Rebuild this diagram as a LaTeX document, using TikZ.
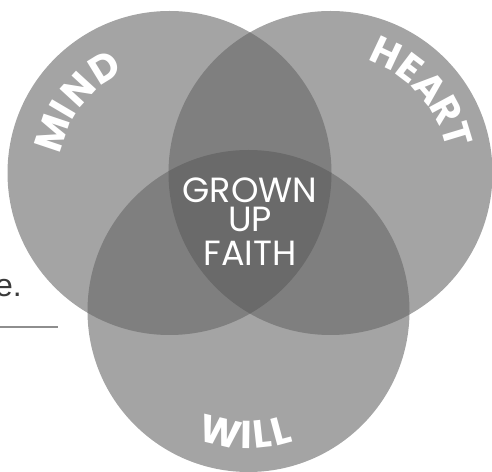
\documentclass[tikz,border=0pt]{standalone}
\usepackage{fontspec}
\usetikzlibrary{calc}
\newfontfamily\popfont{Poppins}
\newfontfamily\arialfont{Liberation Sans}
\definecolor{cone}{HTML}{A4A4A4}
\definecolor{ctwo}{HTML}{7F7F7F}
\definecolor{cthree}{HTML}{6A6A6A}
\definecolor{etext}{HTML}{3A3A3A}
\definecolor{rulegray}{HTML}{8E8E8E}
\tikzset{
  letterbox/.style={text=white, font=\popfont\bfseries\fontsize{39}{39}\selectfont, inner sep=0pt, anchor=center},
  centertext/.style={text=white, font=\popfont\fontsize{35}{35}\selectfont, inner sep=0pt, anchor=base},
}
\begin{document}
\begin{tikzpicture}[x=1pt,y=1pt]
\useasboundingbox (0,0) rectangle (492,471);
\clip (0,0) rectangle (492,471);
\coordinate (L) at (169.5,298);
\coordinate (R) at (330.5,298);
\coordinate (B) at (248.5,160);
% text at left
\node[anchor=base west, inner sep=0pt, text=etext, font=\arialfont\fontsize{32}{32}\selectfont] (etxt) at (-5,174) {e.};
\coordinate (rulea) at (0,144);
\coordinate (ruleb) at (58,144);
\draw[rulegray, line width=2pt] (rulea) -- (ruleb);
% circles
\fill[cone] (L) circle[radius=162pt];
\fill[cone] (R) circle[radius=162pt];
\fill[cone] (B) circle[radius=161pt];
\begin{scope}
  \clip (L) circle[radius=162pt];
  \fill[ctwo] (R) circle[radius=162pt];
  \fill[ctwo] (B) circle[radius=161pt];
\end{scope}
\begin{scope}
  \clip (R) circle[radius=162pt];
  \fill[ctwo] (B) circle[radius=161pt];
\end{scope}
\begin{scope}
  \clip (L) circle[radius=162pt];
  \clip (R) circle[radius=162pt];
  \fill[cthree] (B) circle[radius=161pt];
\end{scope}
% curved labels, letter by letter
\foreach \ch/\ang [count=\i] in {M/161.5, I/149.5, N/137.5, D/121.5}
  \node[letterbox, rotate=\ang-90] (mind\i) at ($(L)+(\ang:124pt)$) {\ch};
\foreach \ch/\ang [count=\i] in {H/64.8, E/52.8, A/40.6, R/28.4, T/16.8}
  \node[letterbox, rotate=\ang+-90] (heart\i) at ($(R)+(\ang:132pt)$) {\ch};
\foreach \ch/\ang [count=\i] in {W/256.8, I/269.2, L/276.2, L/285}
  \node[letterbox, rotate=\ang+90] (will\i) at ($(B)+(\ang:124pt)$) {\ch};
% center text
\node[centertext] (grown) at (250,268) {GROWN};
\node[centertext] (up) at (250,239) {UP};
\node[centertext] (faith) at (250,205) {FAITH};
\end{tikzpicture}
\end{document}
